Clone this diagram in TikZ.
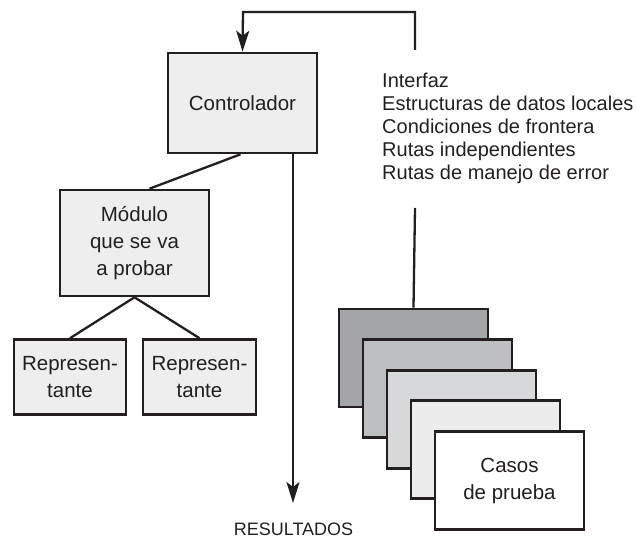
\documentclass[tikz,border=0pt]{standalone}
\usepackage{fontspec}
\setmainfont{Liberation Sans}
\usetikzlibrary{arrows.meta,calc}
\definecolor{ink}{HTML}{231F20}
\definecolor{boxgray}{HTML}{EEEEEE}
\definecolor{stA}{HTML}{A4A5A8}
\definecolor{stB}{HTML}{BEBFC1}
\definecolor{stC}{HTML}{D7D8DA}
\definecolor{stD}{HTML}{ECECEC}
\definecolor{stE}{HTML}{FFFFFF}
\begin{document}
\begin{tikzpicture}[x=1pt,y=-1pt,
  txt/.style={font=\fontsize{20.5}{27}\selectfont, text=ink},
  box/.style={txt, draw=ink, line width=2.6pt, fill=boxgray, inner sep=0pt, align=center},
  card/.style={draw=ink, line width=2.6pt, minimum width=149pt, minimum height=98pt, inner sep=0pt},
  conn/.style={draw=ink, line width=2.3pt},
  arr/.style={conn, -{Stealth[length=21pt,width=13pt,inset=5pt]}}]
\useasboundingbox (0,0) rectangle (637,540);
% left tree
\node[box, minimum width=149pt, minimum height=100pt] (ctrl) at (242.5,103) {Controlador};
\node[box, minimum width=149pt, minimum height=106pt] (mod) at (134.5,243) {Módulo\\que se va\\a probar};
\node[box, minimum width=112pt, minimum height=75pt] (repA) at (70,377) {Represen-\\tante};
\node[box, minimum width=113pt, minimum height=75pt] (repB) at (199.5,377) {Represen-\\tante};
\draw[conn] ([xshift=-2pt]ctrl.south) -- ([xshift=15pt]mod.north);
\draw[conn] (mod.south) -- (repA.north);
\draw[conn] (mod.south) -- (repB.north);
% results arrow
\node[txt, font=\fontsize{18}{22}\selectfont] (res) at (293.5,529) {RESULTADOS};
\coordinate (resend) at (293,503);
\draw[arr] ([xshift=50.5pt]ctrl.south) -- (resend);
% list
\node[txt, font=\fontsize{20}{23}\selectfont, align=left, anchor=west, inner sep=0pt] (list) at (382,128)
  {Interfaz\\Estructuras de datos locales\\Condiciones de frontera\\Rutas independientes\\Rutas de manejo de error};
% stack of cards
\node[card, fill=stA] (s1) at (413.5,358) {};
\node[card, fill=stB] (s2) at (437.5,388.5) {};
\node[card, fill=stC] (s3) at (461.5,419.5) {};
\node[card, fill=stD] (s4) at (485.5,449.5) {};
\node[card, fill=stE, txt, align=center] (s5) at (509.5,480.5) {Casos\\de prueba};
% feedback loop
\coordinate (loopstart) at (415,50);
\coordinate (loopR) at (415,12);
\coordinate (loopL) at (243,12);
\draw[arr] (loopstart) -- (loopR) -- (loopL) -- (ctrl.north);
\coordinate (liststem) at (415,208);
\draw[conn] (liststem) -- (s1.north);
\end{tikzpicture}
\end{document}
